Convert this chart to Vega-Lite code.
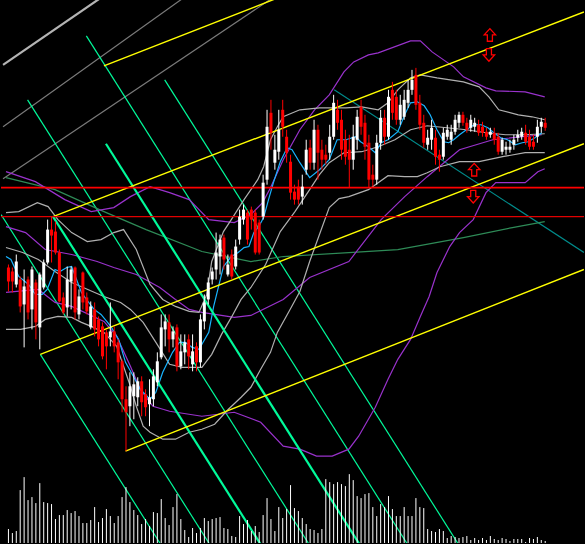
{
"$schema": "https://vega.github.io/schema/vega-lite/v6.json",
"width": 585, "height": 544, "padding": 0,
"autosize": {"type": "fit", "contains": "padding"},
"background": "#000000",
"config": {"view": {"stroke": null}, "axis": {"disable": true}, "legend": {"disable": true}},
"datasets": {
"bars": [
{"t":0,"o":276,"h":279,"l":252,"c":262,"v":14},{"t":1,"o":272,"h":276,"l":251,"c":262,"v":10},{"t":2,"o":259,"h":289,"l":256,"c":282,"v":12},{"t":3,"o":264,"h":267,"l":231,"c":237,"v":53},{"t":4,"o":239,"h":274,"l":196,"c":257,"v":66},{"t":5,"o":264,"h":267,"l":224,"c":231,"v":43},{"t":6,"o":234,"h":277,"l":214,"c":274,"v":46},{"t":7,"o":261,"h":264,"l":204,"c":221,"v":40},{"t":8,"o":216,"h":271,"l":194,"c":269,"v":60},{"t":9,"o":256,"h":284,"l":254,"c":281,"v":41},
{"t":10,"o":281,"h":324,"l":279,"c":314,"v":40},{"t":11,"o":314,"h":327,"l":281,"c":308,"v":39},{"t":12,"o":312,"h":322,"l":289,"c":291,"v":24},{"t":13,"o":291,"h":294,"l":241,"c":242,"v":28},{"t":14,"o":246,"h":251,"l":229,"c":231,"v":28},{"t":15,"o":236,"h":277,"l":227,"c":264,"v":33},{"t":16,"o":262,"h":277,"l":234,"c":274,"v":30},{"t":17,"o":276,"h":277,"l":224,"c":231,"v":32},{"t":18,"o":229,"h":254,"l":224,"c":247,"v":27},{"t":19,"o":271,"h":272,"l":234,"c":241,"v":20},
{"t":20,"o":246,"h":251,"l":229,"c":232,"v":20},{"t":21,"o":216,"h":242,"l":214,"c":237,"v":23},{"t":22,"o":234,"h":241,"l":207,"c":214,"v":36},{"t":23,"o":224,"h":227,"l":197,"c":204,"v":21},{"t":24,"o":217,"h":221,"l":184,"c":187,"v":25},{"t":25,"o":211,"h":214,"l":174,"c":197,"v":34},{"t":26,"o":206,"h":241,"l":197,"c":212,"v":27},{"t":27,"o":212,"h":217,"l":191,"c":197,"v":20},{"t":28,"o":201,"h":204,"l":164,"c":181,"v":27},{"t":29,"o":182,"h":184,"l":131,"c":144,"v":46},
{"t":30,"o":144,"h":157,"l":92,"c":131,"v":56},{"t":31,"o":137,"h":171,"l":117,"c":157,"v":41},{"t":32,"o":147,"h":171,"l":124,"c":159,"v":33},{"t":33,"o":146,"h":166,"l":137,"c":162,"v":28},{"t":34,"o":162,"h":167,"l":127,"c":141,"v":19},{"t":35,"o":149,"h":154,"l":127,"c":136,"v":24},{"t":36,"o":139,"h":164,"l":117,"c":146,"v":17},{"t":37,"o":144,"h":174,"l":137,"c":167,"v":31},{"t":38,"o":161,"h":191,"l":157,"c":182,"v":30},{"t":39,"o":186,"h":229,"l":184,"c":216,"v":44},
{"t":40,"o":214,"h":229,"l":197,"c":222,"v":25},{"t":41,"o":221,"h":229,"l":191,"c":204,"v":18},{"t":42,"o":204,"h":217,"l":196,"c":212,"v":36},{"t":43,"o":216,"h":219,"l":172,"c":177,"v":49},{"t":44,"o":177,"h":209,"l":174,"c":192,"v":24},{"t":45,"o":191,"h":209,"l":179,"c":201,"v":13},{"t":46,"o":204,"h":209,"l":174,"c":187,"v":6},{"t":47,"o":179,"h":209,"l":172,"c":192,"v":15},{"t":48,"o":197,"h":201,"l":172,"c":181,"v":10},{"t":49,"o":181,"h":229,"l":176,"c":224,"v":15},
{"t":50,"o":222,"h":249,"l":214,"c":241,"v":25},{"t":51,"o":244,"h":266,"l":239,"c":261,"v":22},{"t":52,"o":264,"h":276,"l":259,"c":272,"v":24},{"t":53,"o":274,"h":311,"l":264,"c":291,"v":25},{"t":54,"o":287,"h":309,"l":269,"c":304,"v":26},{"t":55,"o":306,"h":309,"l":274,"c":284,"v":15},{"t":56,"o":269,"h":289,"l":267,"c":279,"v":14},{"t":57,"o":289,"h":294,"l":264,"c":267,"v":7},{"t":58,"o":277,"h":304,"l":274,"c":297,"v":6},{"t":59,"o":304,"h":334,"l":299,"c":327,"v":27},
{"t":60,"o":324,"h":339,"l":319,"c":334,"v":19},{"t":61,"o":331,"h":334,"l":299,"c":304,"v":23},{"t":62,"o":334,"h":337,"l":314,"c":324,"v":12},{"t":63,"o":331,"h":334,"l":289,"c":291,"v":17},{"t":64,"o":321,"h":324,"l":289,"c":291,"v":11},{"t":65,"o":327,"h":369,"l":324,"c":361,"v":28},{"t":66,"o":364,"h":434,"l":359,"c":417,"v":45},{"t":67,"o":431,"h":444,"l":394,"c":411,"v":24},{"t":68,"o":381,"h":409,"l":374,"c":394,"v":12},{"t":69,"o":392,"h":434,"l":384,"c":414,"v":36},
{"t":70,"o":434,"h":444,"l":407,"c":417,"v":25},{"t":71,"o":407,"h":414,"l":381,"c":391,"v":34},{"t":72,"o":382,"h":389,"l":344,"c":351,"v":58},{"t":73,"o":352,"h":359,"l":339,"c":344,"v":35},{"t":74,"o":357,"h":364,"l":339,"c":344,"v":32},{"t":75,"o":347,"h":369,"l":339,"c":357,"v":25},{"t":76,"o":374,"h":404,"l":369,"c":394,"v":19},{"t":77,"o":396,"h":404,"l":374,"c":381,"v":14},{"t":78,"o":381,"h":424,"l":374,"c":414,"v":13},{"t":79,"o":414,"h":419,"l":364,"c":391,"v":10},
{"t":80,"o":394,"h":404,"l":374,"c":384,"v":14},{"t":81,"o":389,"h":399,"l":379,"c":384,"v":64},{"t":82,"o":391,"h":419,"l":384,"c":407,"v":61},{"t":83,"o":407,"h":449,"l":404,"c":441,"v":59},{"t":84,"o":434,"h":444,"l":414,"c":421,"v":61},{"t":85,"o":424,"h":434,"l":384,"c":394,"v":59},{"t":86,"o":404,"h":414,"l":379,"c":387,"v":57},{"t":87,"o":394,"h":409,"l":356,"c":384,"v":69},{"t":88,"o":384,"h":419,"l":374,"c":407,"v":63},{"t":89,"o":404,"h":434,"l":394,"c":427,"v":47},
{"t":90,"o":437,"h":444,"l":409,"c":417,"v":45},{"t":91,"o":421,"h":429,"l":384,"c":397,"v":49},{"t":92,"o":401,"h":409,"l":356,"c":364,"v":50},{"t":93,"o":369,"h":379,"l":357,"c":364,"v":36},{"t":94,"o":364,"h":409,"l":359,"c":401,"v":27},{"t":95,"o":401,"h":434,"l":394,"c":426,"v":39},{"t":96,"o":426,"h":434,"l":399,"c":407,"v":36},{"t":97,"o":407,"h":454,"l":404,"c":447,"v":47},{"t":98,"o":454,"h":462,"l":424,"c":431,"v":34},{"t":99,"o":447,"h":454,"l":419,"c":424,"v":27},
{"t":100,"o":424,"h":449,"l":419,"c":439,"v":27},{"t":101,"o":427,"h":454,"l":424,"c":444,"v":36},{"t":102,"o":441,"h":464,"l":436,"c":454,"v":27},{"t":103,"o":454,"h":474,"l":449,"c":464,"v":27},{"t":104,"o":469,"h":476,"l":434,"c":439,"v":45},{"t":105,"o":441,"h":449,"l":414,"c":419,"v":36},{"t":106,"o":421,"h":429,"l":396,"c":401,"v":35},{"t":107,"o":399,"h":414,"l":394,"c":406,"v":14},{"t":108,"o":404,"h":424,"l":394,"c":416,"v":12},{"t":109,"o":406,"h":414,"l":379,"c":387,"v":11},
{"t":110,"o":389,"h":394,"l":372,"c":384,"v":14},{"t":111,"o":387,"h":416,"l":384,"c":411,"v":12},{"t":112,"o":407,"h":419,"l":404,"c":414,"v":5},{"t":113,"o":404,"h":419,"l":399,"c":412,"v":7},{"t":114,"o":412,"h":429,"l":409,"c":424,"v":6},{"t":115,"o":421,"h":432,"l":416,"c":429,"v":5},{"t":116,"o":429,"h":432,"l":418,"c":421,"v":6},{"t":117,"o":421,"h":426,"l":411,"c":414,"v":7},{"t":118,"o":416,"h":429,"l":412,"c":424,"v":3},{"t":119,"o":417,"h":426,"l":412,"c":421,"v":5},
{"t":120,"o":419,"h":424,"l":408,"c":411,"v":3},{"t":121,"o":417,"h":422,"l":407,"c":411,"v":5},{"t":122,"o":412,"h":416,"l":404,"c":407,"v":3},{"t":123,"o":409,"h":416,"l":406,"c":412,"v":7},{"t":124,"o":411,"h":416,"l":399,"c":404,"v":4},{"t":125,"o":407,"h":411,"l":389,"c":392,"v":3},{"t":126,"o":392,"h":406,"l":389,"c":404,"v":5},{"t":127,"o":394,"h":402,"l":389,"c":397,"v":4},{"t":128,"o":394,"h":404,"l":391,"c":397,"v":2},{"t":129,"o":399,"h":409,"l":394,"c":404,"v":4},
{"t":130,"o":406,"h":414,"l":402,"c":409,"v":4},{"t":131,"o":407,"h":416,"l":404,"c":412,"v":4},{"t":132,"o":411,"h":419,"l":399,"c":402,"v":1},{"t":133,"o":407,"h":414,"l":394,"c":397,"v":5},{"t":134,"o":402,"h":409,"l":394,"c":397,"v":4},{"t":135,"o":407,"h":424,"l":401,"c":417,"v":6},{"t":136,"o":417,"h":426,"l":411,"c":422,"v":3},{"t":137,"o":421,"h":426,"l":413,"c":416,"v":2}
],
"lines": [
{"s":"gk1","t":-1.38,"p":479},{"s":"gk1","t":23.13,"p":545},
{"s":"gk2","t":-1.38,"p":417},{"s":"gk2","t":44.63,"p":546},
{"s":"gk3","t":-1.38,"p":365},{"s":"gk3","t":67.38,"p":546},
{"s":"y1","t":24.38,"p":478},{"s":"y1","t":70.63,"p":549},
{"s":"y2","t":11.38,"p":327},{"s":"y2","t":146.88,"p":532},
{"s":"y3","t":8.13,"p":189},{"s":"y3","t":146.88,"p":400},
{"s":"y4","t":29.88,"p":92},{"s":"y4","t":146.88,"p":274},
{"s":"g1","t":8.13,"p":189},{"s":"g1","t":39.13,"p":-3},
{"s":"g2","t":-1.88,"p":329},{"s":"g2","t":51.63,"p":-3},
{"s":"g3","t":11.38,"p":327},{"s":"g3","t":64.63,"p":-3},
{"s":"g4","t":4.88,"p":444},{"s":"g4","t":77.0,"p":-3},
{"s":"g5","t":24.88,"p":400},{"s":"g5","t":89.88,"p":-3},
{"s":"g6","t":19.88,"p":508},{"s":"g6","t":102.13,"p":-3},
{"s":"g7","t":39.88,"p":464},{"s":"g7","t":115.13,"p":-3},
{"s":"teal","t":83.13,"p":454},{"s":"teal","t":146.88,"p":291},
{"s":"sg","t":-0.63,"p":366},{"s":"sg","t":11.88,"p":354},{"s":"sg","t":24.38,"p":332},{"s":"sg","t":35.13,"p":314},{"s":"sg","t":49.38,"p":292},{"s":"sg","t":61.88,"p":282},{"s":"sg","t":70.13,"p":287},{"s":"sg","t":86.88,"p":291},{"s":"sg","t":99.38,"p":294},{"s":"sg","t":116.13,"p":306},{"s":"sg","t":128.63,"p":316},{"s":"sg","t":136.88,"p":322},
{"s":"pu","t":-0.63,"p":372},{"s":"pu","t":6.88,"p":362},{"s":"pu","t":14.38,"p":344},{"s":"pu","t":21.13,"p":332},{"s":"pu","t":26.88,"p":336},{"s":"pu","t":31.13,"p":347},{"s":"pu","t":36.13,"p":357},{"s":"pu","t":41.13,"p":351},{"s":"pu","t":46.13,"p":344},{"s":"pu","t":51.13,"p":324},{"s":"pu","t":57.63,"p":321},{"s":"pu","t":61.88,"p":329},{"s":"pu","t":64.88,"p":341},{"s":"pu","t":66.88,"p":356},{"s":"pu","t":70.13,"p":384},{"s":"pu","t":74.38,"p":414},{"s":"pu","t":78.13,"p":434},{"s":"pu","t":81.88,"p":449},{"s":"pu","t":85.63,"p":472},{"s":"pu","t":88.13,"p":482},{"s":"pu","t":91.88,"p":489},{"s":"pu","t":94.38,"p":491},{"s":"pu","t":102.63,"p":503},{"s":"pu","t":105.13,"p":503},{"s":"pu","t":108.13,"p":492},{"s":"pu","t":113.63,"p":477},{"s":"pu","t":116.13,"p":467},{"s":"pu","t":121.88,"p":456},{"s":"pu","t":124.38,"p":453},{"s":"pu","t":131.88,"p":452},{"s":"pu","t":136.88,"p":447},
{"s":"pm","t":-0.63,"p":317},{"s":"pm","t":4.38,"p":311},{"s":"pm","t":9.38,"p":294},{"s":"pm","t":16.13,"p":289},{"s":"pm","t":22.63,"p":282},{"s":"pm","t":26.88,"p":276},{"s":"pm","t":32.63,"p":269},{"s":"pm","t":38.63,"p":256},{"s":"pm","t":42.63,"p":244},{"s":"pm","t":46.13,"p":234},{"s":"pm","t":49.38,"p":231},{"s":"pm","t":57.63,"p":226},{"s":"pm","t":61.88,"p":228},{"s":"pm","t":70.13,"p":244},{"s":"pm","t":76.88,"p":266},{"s":"pm","t":86.88,"p":282},{"s":"pm","t":95.13,"p":324},{"s":"pm","t":101.13,"p":347},{"s":"pm","t":106.88,"p":367},{"s":"pm","t":115.13,"p":394},{"s":"pm","t":123.63,"p":404},{"s":"pm","t":136.13,"p":409},
{"s":"pl","t":-0.63,"p":251},{"s":"pl","t":7.63,"p":254},{"s":"pl","t":11.88,"p":241},{"s":"pl","t":16.13,"p":237},{"s":"pl","t":24.38,"p":222},{"s":"pl","t":27.63,"p":207},{"s":"pl","t":31.13,"p":177},{"s":"pl","t":33.63,"p":154},{"s":"pl","t":36.88,"p":137},{"s":"pl","t":41.13,"p":132},{"s":"pl","t":49.38,"p":127},{"s":"pl","t":57.63,"p":131},{"s":"pl","t":64.38,"p":121},{"s":"pl","t":70.13,"p":97},{"s":"pl","t":74.38,"p":94},{"s":"pl","t":78.63,"p":87},{"s":"pl","t":82.63,"p":87},{"s":"pl","t":86.88,"p":94},{"s":"pl","t":89.38,"p":107},{"s":"pl","t":93.63,"p":136},{"s":"pl","t":96.88,"p":164},{"s":"pl","t":99.38,"p":184},{"s":"pl","t":102.63,"p":204},{"s":"pl","t":105.13,"p":227},{"s":"pl","t":107.38,"p":247},{"s":"pl","t":109.38,"p":271},{"s":"pl","t":112.63,"p":297},{"s":"pl","t":115.13,"p":311},{"s":"pl","t":118.63,"p":324},{"s":"pl","t":121.88,"p":351},{"s":"pl","t":124.38,"p":361},{"s":"pl","t":131.88,"p":361},{"s":"pl","t":135.13,"p":372},{"s":"pl","t":136.88,"p":375},
{"s":"gu","t":-0.63,"p":331},{"s":"gu","t":2.63,"p":332},{"s":"gu","t":7.38,"p":341},{"s":"gu","t":10.13,"p":337},{"s":"gu","t":12.63,"p":324},{"s":"gu","t":16.13,"p":311},{"s":"gu","t":20.13,"p":302},{"s":"gu","t":23.63,"p":304},{"s":"gu","t":26.88,"p":311},{"s":"gu","t":29.38,"p":314},{"s":"gu","t":32.63,"p":294},{"s":"gu","t":36.13,"p":259},{"s":"gu","t":39.38,"p":244},{"s":"gu","t":42.63,"p":237},{"s":"gu","t":46.13,"p":232},{"s":"gu","t":48.63,"p":231},{"s":"gu","t":50.63,"p":249},{"s":"gu","t":51.88,"p":282},{"s":"gu","t":54.88,"p":312},{"s":"gu","t":56.88,"p":324},{"s":"gu","t":60.13,"p":344},{"s":"gu","t":63.63,"p":364},{"s":"gu","t":65.13,"p":377},{"s":"gu","t":66.88,"p":404},{"s":"gu","t":68.63,"p":417},{"s":"gu","t":70.13,"p":427},{"s":"gu","t":74.38,"p":434},{"s":"gu","t":79.38,"p":436},{"s":"gu","t":86.13,"p":436},{"s":"gu","t":90.13,"p":437},{"s":"gu","t":94.38,"p":434},{"s":"gu","t":96.88,"p":441},{"s":"gu","t":99.38,"p":454},{"s":"gu","t":102.63,"p":466},{"s":"gu","t":105.13,"p":469},{"s":"gu","t":109.38,"p":466},{"s":"gu","t":116.13,"p":462},{"s":"gu","t":120.13,"p":457},{"s":"gu","t":122.63,"p":447},{"s":"gu","t":125.13,"p":434},{"s":"gu","t":130.13,"p":429},{"s":"gu","t":133.63,"p":427},{"s":"gu","t":136.88,"p":424},
{"s":"gm","t":-0.63,"p":296},{"s":"gm","t":3.63,"p":291},{"s":"gm","t":7.63,"p":284},{"s":"gm","t":11.88,"p":272},{"s":"gm","t":16.13,"p":261},{"s":"gm","t":24.38,"p":247},{"s":"gm","t":28.63,"p":241},{"s":"gm","t":31.13,"p":234},{"s":"gm","t":34.38,"p":221},{"s":"gm","t":37.63,"p":201},{"s":"gm","t":41.13,"p":179},{"s":"gm","t":44.38,"p":176},{"s":"gm","t":49.38,"p":176},{"s":"gm","t":51.88,"p":189},{"s":"gm","t":54.38,"p":209},{"s":"gm","t":56.88,"p":226},{"s":"gm","t":59.38,"p":244},{"s":"gm","t":61.88,"p":256},{"s":"gm","t":65.63,"p":279},{"s":"gm","t":69.38,"p":312},{"s":"gm","t":73.13,"p":332},{"s":"gm","t":76.88,"p":354},{"s":"gm","t":79.38,"p":369},{"s":"gm","t":81.88,"p":381},{"s":"gm","t":85.63,"p":391},{"s":"gm","t":90.13,"p":392},{"s":"gm","t":94.38,"p":397},{"s":"gm","t":98.63,"p":404},{"s":"gm","t":102.63,"p":414},{"s":"gm","t":106.88,"p":418},{"s":"gm","t":111.88,"p":416},{"s":"gm","t":116.88,"p":414},{"s":"gm","t":121.88,"p":411},{"s":"gm","t":126.88,"p":409},{"s":"gm","t":131.88,"p":409},{"s":"gm","t":136.88,"p":410},
{"s":"gl","t":-0.63,"p":214},{"s":"gl","t":3.13,"p":214},{"s":"gl","t":6.88,"p":217},{"s":"gl","t":9.38,"p":224},{"s":"gl","t":12.63,"p":227},{"s":"gl","t":16.13,"p":226},{"s":"gl","t":18.63,"p":221},{"s":"gl","t":21.13,"p":217},{"s":"gl","t":24.38,"p":211},{"s":"gl","t":27.63,"p":197},{"s":"gl","t":31.13,"p":157},{"s":"gl","t":32.63,"p":137},{"s":"gl","t":34.38,"p":117},{"s":"gl","t":36.13,"p":111},{"s":"gl","t":39.38,"p":104},{"s":"gl","t":42.63,"p":104},{"s":"gl","t":46.13,"p":111},{"s":"gl","t":49.38,"p":114},{"s":"gl","t":52.63,"p":119},{"s":"gl","t":56.13,"p":134},{"s":"gl","t":59.38,"p":146},{"s":"gl","t":61.88,"p":156},{"s":"gl","t":64.38,"p":174},{"s":"gl","t":66.88,"p":191},{"s":"gl","t":68.63,"p":211},{"s":"gl","t":71.88,"p":234},{"s":"gl","t":74.38,"p":252},{"s":"gl","t":76.88,"p":282},{"s":"gl","t":79.38,"p":309},{"s":"gl","t":81.88,"p":336},{"s":"gl","t":84.38,"p":345},{"s":"gl","t":86.88,"p":347},{"s":"gl","t":91.88,"p":354},{"s":"gl","t":96.88,"p":368},{"s":"gl","t":101.13,"p":367},{"s":"gl","t":104.38,"p":367},{"s":"gl","t":106.88,"p":371},{"s":"gl","t":110.13,"p":377},{"s":"gl","t":115.13,"p":382},{"s":"gl","t":120.13,"p":382},{"s":"gl","t":126.13,"p":387},{"s":"gl","t":131.88,"p":391},{"s":"gl","t":136.88,"p":391},
{"s":"ma","t":-0.63,"p":287},{"s":"ma","t":0.63,"p":284},{"s":"ma","t":2.63,"p":267},{"s":"ma","t":5.13,"p":259},{"s":"ma","t":6.88,"p":249},{"s":"ma","t":8.63,"p":249},{"s":"ma","t":9.88,"p":254},{"s":"ma","t":11.88,"p":274},{"s":"ma","t":13.13,"p":272},{"s":"ma","t":14.88,"p":276},{"s":"ma","t":16.13,"p":277},{"s":"ma","t":17.38,"p":264},{"s":"ma","t":18.63,"p":251},{"s":"ma","t":19.88,"p":244},{"s":"ma","t":21.88,"p":234},{"s":"ma","t":23.63,"p":229},{"s":"ma","t":26.13,"p":217},{"s":"ma","t":28.13,"p":204},{"s":"ma","t":29.88,"p":181},{"s":"ma","t":31.88,"p":167},{"s":"ma","t":33.63,"p":154},{"s":"ma","t":36.13,"p":144},{"s":"ma","t":37.63,"p":151},{"s":"ma","t":39.38,"p":171},{"s":"ma","t":41.88,"p":191},{"s":"ma","t":43.63,"p":201},{"s":"ma","t":45.13,"p":201},{"s":"ma","t":46.88,"p":196},{"s":"ma","t":48.63,"p":194},{"s":"ma","t":51.13,"p":211},{"s":"ma","t":52.38,"p":237},{"s":"ma","t":53.63,"p":257},{"s":"ma","t":54.88,"p":277},{"s":"ma","t":56.88,"p":287},{"s":"ma","t":58.63,"p":291},{"s":"ma","t":60.13,"p":296},{"s":"ma","t":61.38,"p":297},{"s":"ma","t":62.63,"p":311},{"s":"ma","t":63.88,"p":317},{"s":"ma","t":65.13,"p":326},{"s":"ma","t":66.38,"p":344},{"s":"ma","t":67.63,"p":361},{"s":"ma","t":69.38,"p":382},{"s":"ma","t":71.13,"p":396},{"s":"ma","t":72.38,"p":394},{"s":"ma","t":74.38,"p":381},{"s":"ma","t":76.88,"p":366},{"s":"ma","t":79.38,"p":374},{"s":"ma","t":81.88,"p":384},{"s":"ma","t":83.88,"p":404},{"s":"ma","t":86.13,"p":404},{"s":"ma","t":88.63,"p":407},{"s":"ma","t":89.88,"p":402},{"s":"ma","t":91.88,"p":397},{"s":"ma","t":93.63,"p":391},{"s":"ma","t":95.13,"p":401},{"s":"ma","t":96.88,"p":404},{"s":"ma","t":99.38,"p":412},{"s":"ma","t":101.13,"p":429},{"s":"ma","t":102.63,"p":441},{"s":"ma","t":104.38,"p":442},{"s":"ma","t":106.13,"p":438},{"s":"ma","t":107.63,"p":429},{"s":"ma","t":109.38,"p":414},{"s":"ma","t":111.13,"p":402},{"s":"ma","t":112.38,"p":401},{"s":"ma","t":113.63,"p":404},{"s":"ma","t":115.13,"p":409},{"s":"ma","t":116.88,"p":414},{"s":"ma","t":118.88,"p":419},{"s":"ma","t":120.63,"p":419},{"s":"ma","t":122.38,"p":416},{"s":"ma","t":123.88,"p":411},{"s":"ma","t":125.63,"p":406},{"s":"ma","t":127.38,"p":404},{"s":"ma","t":129.38,"p":399},{"s":"ma","t":131.13,"p":401},{"s":"ma","t":132.63,"p":402},{"s":"ma","t":134.38,"p":406},{"s":"ma","t":136.13,"p":411}
],
"levels": [{"level": 356, "kind": "main"}, {"level": 327, "kind": "second"}],
"arrows": [{"t":122.88,"p":509,"d":"up"},{"t":122.63,"p":489,"d":"down"},{"t":118.88,"p":374,"d":"up"},{"t":118.63,"p":347,"d":"down"}]
},
"layer": [
{
"data": {"name": "lines"},
"transform": [{"filter": "indexof(['gk2','gk3','g1','g2','g4','g6','g7','teal','sg','pu','pm','pl','gu','gm','gl','ma'], datum.s) >= 0"}],
"mark": {"type": "line", "clip": true, "strokeWidth": 1.2},
"encoding": {
"x": {"field": "t", "type": "quantitative", "scale": {"domain": [-0.625, 145.625], "nice": false, "zero": false}, "axis": null},
"y": {"field": "p", "type": "quantitative", "scale": {"domain": [0, 544], "nice": false, "zero": false}, "axis": null},
"detail": {"field": "s"},
"color": {"field": "s", "type": "nominal", "legend": null, "scale": {
"domain": ["gk1","gk2","gk3","g1","g2","g3","g4","g5","g6","g7","y1","y2","y3","y4","teal","sg","pu","pm","pl","gu","gm","gl","ma"],
"range": ["#B4B4B4","#7A7A7A","#7A7A7A","#00FA9A","#00FA9A","#00FA9A","#00FA9A","#00FA9A","#00FA9A","#00FA9A","#FFFF00","#FFFF00","#FFFF00","#FFFF00","#008B8B","#2E8B57","#9932CC","#9932CC","#9932CC","#B0B0B0","#B0B0B0","#B0B0B0","#18B4FF"]}}
}
},
{
"data": {"name": "lines"},
"transform": [{"filter": "indexof(['gk1','g3','g5'], datum.s) >= 0"}],
"mark": {"type": "line", "clip": true, "strokeWidth": 2.2},
"encoding": {
"x": {"field": "t", "type": "quantitative"},
"y": {"field": "p", "type": "quantitative"},
"detail": {"field": "s"},
"color": {"field": "s", "type": "nominal", "legend": null}
}
},
{
"data": {"name": "lines"},
"transform": [{"filter": "indexof(['y1','y2','y3','y4'], datum.s) >= 0"}],
"mark": {"type": "line", "clip": true, "strokeWidth": 1.4},
"encoding": {
"x": {"field": "t", "type": "quantitative"},
"y": {"field": "p", "type": "quantitative"},
"detail": {"field": "s"},
"color": {"field": "s", "type": "nominal", "legend": null}
}
},
{
"data": {"name": "levels"},
"transform": [{"filter": "datum.kind == 'main'"}],
"mark": {"type": "rule", "color": "#FF0000", "strokeWidth": 1.6},
"encoding": {"y": {"field": "level", "type": "quantitative"}}
},
{
"data": {"name": "levels"},
"transform": [{"filter": "datum.kind == 'second'"}],
"mark": {"type": "rule", "color": "#E00000", "strokeWidth": 1.1},
"encoding": {"y": {"field": "level", "type": "quantitative"}}
},
{
"data": {"name": "bars"},
"mark": {"type": "rule", "color": "#FFFFFF", "strokeWidth": 1},
"encoding": {
"x": {"field": "t", "type": "quantitative"},
"y": {"field": "v", "type": "quantitative"},
"y2": {"datum": 0}
}
},
{
"data": {"name": "bars"},
"mark": {"type": "rule", "strokeWidth": 1},
"encoding": {
"x": {"field": "t", "type": "quantitative"},
"y": {"field": "l", "type": "quantitative"},
"y2": {"field": "h"},
"color": {"condition": {"test": "datum.o > datum.c", "value": "#FF0000"}, "value": "#FFFFFF"}
}
},
{
"data": {"name": "bars"},
"mark": {"type": "bar", "size": 3},
"encoding": {
"x": {"field": "t", "type": "quantitative"},
"y": {"field": "o", "type": "quantitative"},
"y2": {"field": "c"},
"color": {"condition": {"test": "datum.o > datum.c", "value": "#FF0000"}, "value": "#FFFFFF"}
}
},
{
"data": {"name": "arrows"},
"mark": {"type": "point", "filled": true, "fill": "#000000", "stroke": "#FF0000", "strokeWidth": 1.3, "size": 160, "opacity": 1},
"encoding": {
"x": {"field": "t", "type": "quantitative"},
"y": {"field": "p", "type": "quantitative"},
"shape": {"field": "d", "type": "nominal", "legend": null, "scale": {"domain": ["up", "down"], "range": ["M0,-1L0.9,0L0.4,0L0.4,1L-0.4,1L-0.4,0L-0.9,0Z", "M0,1L0.9,0L0.4,0L0.4,-1L-0.4,-1L-0.4,0L-0.9,0Z"]}}
}
}
]
}
